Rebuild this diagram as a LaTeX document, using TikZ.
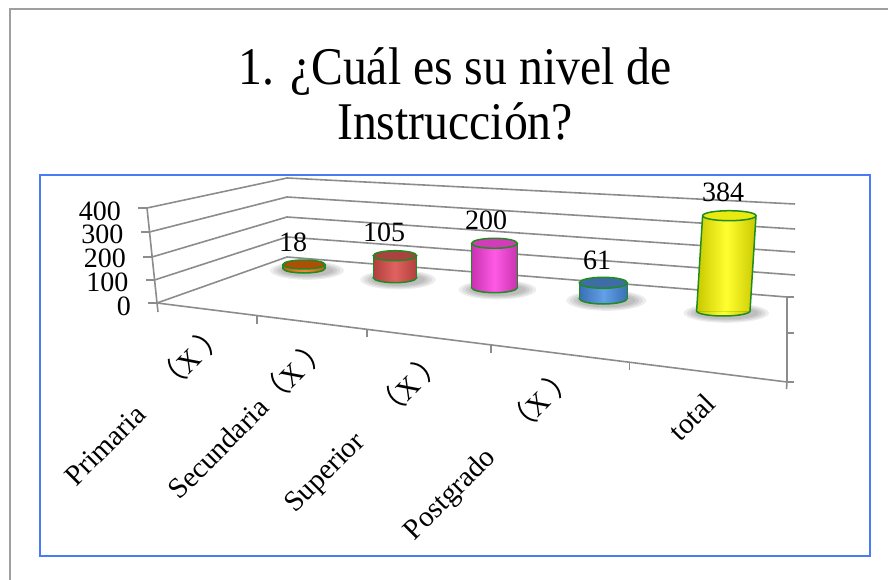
\documentclass[tikz,border=0pt]{standalone}
\usepackage{fontspec}
\usetikzlibrary{calc}
\setmainfont{Liberation Serif}
\newfontfamily\cjk{Noto Sans CJK SC}
\definecolor{axgray}{HTML}{8C8C8C}
\definecolor{frameblue}{HTML}{4A7BF7}
\definecolor{cylgreen}{HTML}{1E8C1E}
\definecolor{orD}{HTML}{C85A10}\definecolor{orL}{HTML}{F08A3A}\definecolor{orT}{HTML}{B04E08}
\definecolor{reD}{HTML}{B0403C}\definecolor{reL}{HTML}{E06260}\definecolor{reT}{HTML}{A84340}
\definecolor{maD}{HTML}{C833B0}\definecolor{maL}{HTML}{FF5AE6}\definecolor{maT}{HTML}{D33CB8}
\definecolor{blD}{HTML}{3A6FB5}\definecolor{blL}{HTML}{62A0E8}\definecolor{blT}{HTML}{3E6DA5}
\definecolor{yeD}{HTML}{C8C800}\definecolor{yeL}{HTML}{FFFF30}\definecolor{yeT}{HTML}{EAEA10}
\newcommand\mycyl[9]{%
  \foreach \k in {4,3,2,1}{\fill[black,opacity=0.07] ({#3+3},{#4+2}) ellipse [x radius={#5+2+3.5*\k}, y radius={#6+1.2*\k}];}
  \fill[left color=#7,right color=#7,middle color=#8] (#3,#4) ellipse [x radius=#5, y radius=#6];
  \draw[cylline] (#3,#4) ellipse [x radius=#5, y radius=#6];
  \fill[left color=#7,right color=#7,middle color=#8] ({#1-#5},#2) -- ({#3-#5},#4) -- ({#3+#5},#4) -- ({#1+#5},#2) -- cycle;
  \draw[cylline] ({#1-#5},#2) -- ({#3-#5},#4) ({#1+#5},#2) -- ({#3+#5},#4);
  \fill[#9] (#1,#2) ellipse [x radius=#5, y radius=#6];
  \draw[cylline] (#1,#2) ellipse [x radius=#5, y radius=#6];
}
\begin{document}
\begin{tikzpicture}[x=1pt,y=-1pt,
  ax/.style={draw=axgray,line width=1.6pt},
  cylline/.style={draw=cylgreen,line width=1.5pt},
  ctext/.style={inner sep=0pt,font=\fontsize{28}{32}\selectfont},
  cat/.style={inner sep=0pt,rotate=45,anchor=east,font=\fontsize{29}{33}\selectfont},
  ttl/.style={inner sep=0pt,anchor=base,font=\fontsize{53}{60}\selectfont}]
\useasboundingbox (0,0) rectangle (888,580);
\clip (0,0) rectangle (888,580);
\draw[gray!75,line width=1.3pt] (10,9) rectangle (905,600);
\draw[frameblue,line width=1.6pt] (40,175) rectangle (870,556);
% title
\node[ttl] (t1) at (455,85) {\scalebox{0.9}[1]{1. ¿Cuál es su nivel de}};
\node[ttl] (t2) at (455,140) {\scalebox{0.9}[1]{Instrucción?}};
% walls
\coordinate (a4) at (147,208); \coordinate (a3) at (149.5,232); \coordinate (a2) at (152,257);
\coordinate (a1) at (154.5,280); \coordinate (a0) at (157,303);
\coordinate (b4) at (287,178); \coordinate (b3) at (287,197); \coordinate (b2) at (287,217);
\coordinate (b1) at (287,237); \coordinate (b0) at (287,257);
\coordinate (c4) at (795,204); \coordinate (c3) at (795,229); \coordinate (c2) at (795,252);
\coordinate (c1) at (795,275); \coordinate (c0) at (787,297);
\coordinate (f1) at (787,382);
\draw[ax] (a4) -- (b4) -- (c4);
\draw[ax] (a3) -- (b3) -- (c3);
\draw[ax] (a2) -- (b2) -- (c2);
\draw[ax] (a1) -- (b1) -- (c1);
\draw[ax] (a0) -- (b0) -- (c0);
\draw[ax] (a4) -- (a0) -- ++(1,9);
\foreach \p in {a4,a3,a2,a1,a0} \draw[ax] (\p) -- ++(-9,0);
\draw[ax] (a0) -- (f1);
\draw[ax] (c0) -- (f1) -- ++(-0.5,7);
\draw[ax] (c0) -- ++(7,0);
\draw[ax] ($(c0)!0.42!(f1)$) -- ++(7,0);
\draw[ax] (f1) -- ++(7,0);
\foreach \t in {0.159,0.333,0.530,0.750} \draw[ax] ($(a0)!\t!(f1)$) -- ++(0,8);
% axis labels
\node[ctext,anchor=east] (y4) at (121,211) {400};
\node[ctext,anchor=east] (y3) at (123.5,234.5) {300};
\node[ctext,anchor=east] (y2) at (126,258) {200};
\node[ctext,anchor=east] (y1) at (128.5,282) {100};
\node[ctext,anchor=east] (y0) at (131,306) {0};
% cylinders
\mycyl{304}{264.5}{304}{268.5}{21}{4.5}{orD}{orL}{orT}
\mycyl{395}{255.7}{395}{277.7}{21.7}{5}{reD}{reL}{reT}
\mycyl{494.5}{243.3}{494.5}{287.7}{22.8}{5}{maD}{maL}{maT}
\mycyl{603.3}{282.8}{603.3}{298.5}{24}{5.5}{blD}{blL}{blT}
\mycyl{729.3}{215.7}{723.3}{311}{26.7}{5}{yeD}{yeL}{yeT}
% value labels
\node[ctext] (v1) at (293,242) {18};
\node[ctext] (v2) at (384,232) {105};
\node[ctext] (v3) at (486,220) {200};
\node[ctext] (v4) at (597,260) {61};
\node[ctext] (v5) at (723,192) {384};
% category labels
\node[cat] (k1) at (221,327) {Primaria{\cjk 　（}X {\cjk ）}};
\node[cat] (k2) at (324,341) {Secundaria{\cjk （}X {\cjk ）}};
\node[cat] (k3) at (441,355) {Superior{\cjk 　（}X {\cjk ）}};
\node[cat] (k4) at (572,371) {Postgrado{\cjk 　（}X {\cjk ）}};
\node[cat] (k5) at (710,399) {total};
\end{tikzpicture}
\end{document}
